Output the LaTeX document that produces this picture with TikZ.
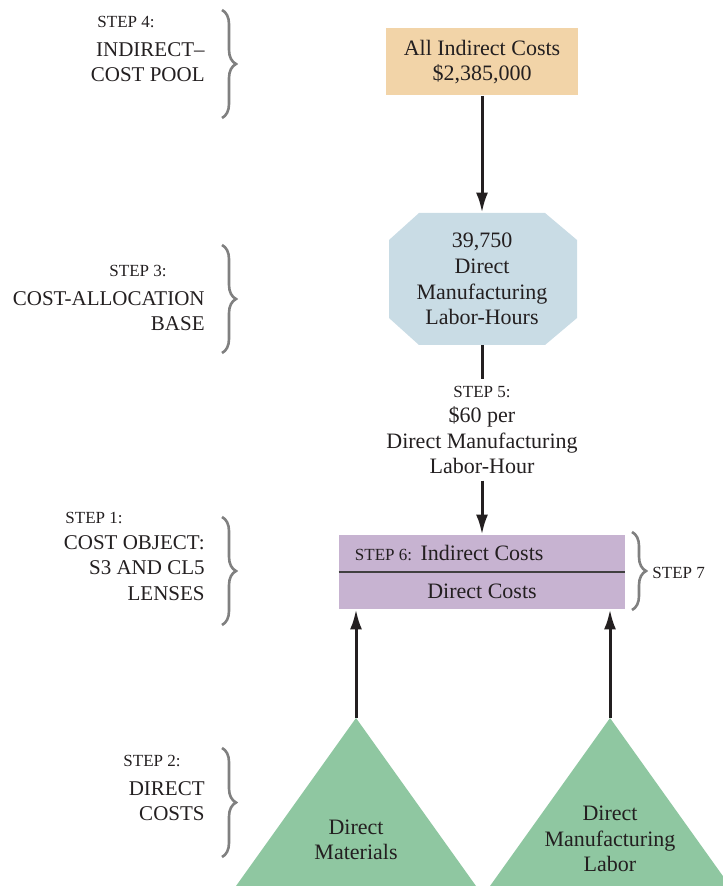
\documentclass[tikz,border=0pt]{standalone}
\usepackage{fontspec}
\setmainfont{Liberation Serif}
\usetikzlibrary{arrows.meta,decorations.pathreplacing}

\definecolor{poolfill}{HTML}{F2D4A8}
\definecolor{basefill}{HTML}{C9DCE5}
\definecolor{objfill}{HTML}{C7B3D1}
\definecolor{directfill}{HTML}{8FC7A1}
\definecolor{bracegray}{HTML}{808080}
\definecolor{inktext}{HTML}{231F20}

\newcommand{\stepfont}{\fontsize{8.5}{10}\selectfont}

\tikzset{
  flow/.style={-{Latex[length=10pt,width=6pt]}, draw=inktext, line width=1.5pt},
  curly/.style={decorate, decoration={brace,amplitude=7pt}, draw=bracegray, line width=1.3pt},
  steplabel/.style={font=\stepfont, inner sep=0pt},
  sidelabel/.style={align=right, anchor=east, inner sep=0pt, font=\fontsize{10.5}{12.8}\selectfont},
}

\begin{document}
\begin{tikzpicture}[x=0.5pt,y=-0.5pt,font=\fontsize{11}{12.8}\selectfont,text=inktext]
  \useasboundingbox (0,0) rectangle (722,886);

  % left column: steps and braces
  \node[steplabel] (s4) at (126,22) {STEP 4:};
  \node[sidelabel] (pooltxt) at (205,62) {INDIRECT--\\COST POOL};
  \draw[curly] (222,10) -- (222,118);

  \node[steplabel] (s3) at (138,271) {STEP 3:};
  \node[sidelabel] (basetxt) at (205,311) {COST-ALLOCATION\\BASE};
  \draw[curly] (222,245) -- (222,353);

  \node[steplabel] (s1) at (94,518) {STEP 1:};
  \node[sidelabel] (objtxt) at (205,568) {COST OBJECT:\\S3 AND CL5\\LENSES};
  \draw[curly] (222,517) -- (222,625);

  \node[steplabel] (s2) at (152,761) {STEP 2:};
  \node[sidelabel] (dirtxt) at (205,801) {DIRECT\\COSTS};
  \draw[curly] (222,748) -- (222,857);

  % cost pool and allocation base
  \node[fill=poolfill, minimum width=96pt, minimum height=33.5pt, align=center, inner sep=0pt] (pool) at (482,62) {All Indirect Costs\\\$2,385,000};

  \fill[basefill] (419,213) -- (545,213) -- (577,240) -- (577,318) -- (545,345)
    -- (419,345) -- (389,318) -- (389,240) -- cycle;
  \node[align=center, minimum width=94pt, minimum height=66pt, inner sep=0pt] (base) at (482,279) {39,750\\Direct\\Manufacturing\\Labor-Hours};

  \node[align=center, inner sep=3pt] (rate) at (482,430) {{\stepfont STEP 5:}\\\$60 per\\Direct Manufacturing\\Labor-Hour};

  % cost object
  \node[fill=objfill, minimum width=143pt, minimum height=37pt, inner sep=0pt] (cobj) at (482,572) {};
  \draw[black!75, line width=0.8pt] (cobj.west) -- (cobj.east);
  \node[inner sep=0pt] (indirect) at (482,553) {\llap{\stepfont STEP 6:\ \ }Indirect Costs};
  \node[inner sep=0pt] (direct) at (482,591) {Direct Costs};
  \draw[curly] (632,532) -- (632,610);
  \node[steplabel, anchor=west] (s7) at (652,573) {STEP 7};

  % direct costs
  \fill[directfill] (356,718) -- (476,886) -- (236,886) -- cycle;
  \fill[directfill] (610,718) -- (730,886) -- (490,886) -- cycle;
  \coordinate (dmtop) at (356,718);
  \coordinate (dltop) at (610,718);
  \node[align=center, inner sep=0pt] (dm) at (356,840) {Direct\\Materials};
  \node[align=center, inner sep=0pt] (dl) at (610,839) {Direct\\Manufacturing\\Labor};

  % connectors
  \draw[flow] (pool) -- (base);
  \draw[draw=inktext, line width=1.5pt] (base) -- (rate);
  \draw[flow] (rate) -- (cobj);
  \draw[flow] (dmtop) -- (dmtop |- cobj.south);
  \draw[flow] (dltop) -- (dltop |- cobj.south);
\end{tikzpicture}
\end{document}
